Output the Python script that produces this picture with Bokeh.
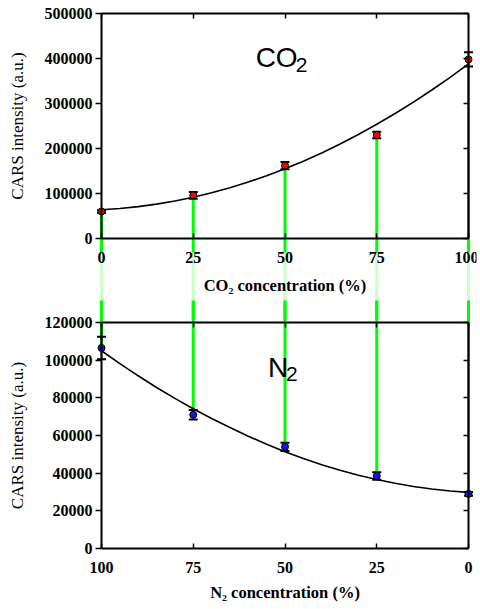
import math
from bokeh.plotting import figure
from bokeh.models import (Range1d, LinearAxis, SingleIntervalTicker, Label,
                          BoxAnnotation, CustomJSTickFormatter,
                          BasicTickFormatter)
from bokeh.embed import file_html
from bokeh.resources import INLINE

# ---------------- data ----------------
co2_conc = [0, 25, 50, 75, 100]
co2_int = [60000, 96000, 162000, 230000, 398000]
co2_err = [3000, 7500, 8000, 7000, 16000]
co2_fit_x = [0, 5, 10, 15, 20, 25, 30, 35, 40, 45, 50, 55, 60, 65, 70, 75,
             80, 85, 90, 95, 100]
co2_fit_y = [64000, 66700, 70800, 76400, 83400, 91800, 101600, 112800,
             125400, 139400, 155000, 171800, 190200, 210000, 231200, 253800,
             277800, 303200, 330000, 358200, 388000]

n2_conc = [100, 75, 50, 25, 0]
n2_int = [106500, 71000, 54000, 38500, 29000]
n2_err = [6000, 2500, 2200, 2000, 1000]
n2_fit_x = [100, 95, 90, 85, 80, 75, 70, 65, 60, 55, 50, 45, 40, 35, 30, 25,
            20, 15, 10, 5, 0]
n2_fit_y = [105000, 98200, 91700, 85500, 79700, 74200, 69000, 64200, 59600,
            55400, 51400, 47800, 44500, 41500, 38900, 36600, 34600, 32900,
            31600, 30500, 29800]

x_ticks_step = 25
co2_tick_step = 100000
n2_tick_step = 20000

# ---------------- geometry (one frame holding both panels) ----------------
LEFT = 2            # canvas x of frame left
TOP = 2             # canvas y of frame top
BOTTOM = 606        # canvas y of frame bottom
FRAME_W = 474
X0 = 101            # canvas x of 0 %
PX_X = 3.67         # px per % unit
Y_CO2_ZERO = 238    # canvas y of CO2 intensity 0
Y_N2_ZERO = 548     # canvas y of N2 intensity 0
CO2_PX = 225 / 500000
N2_PX = 226 / 120000
FRAME_H = BOTTOM - TOP

x_start = (LEFT - X0) / PX_X
x_end = x_start + FRAME_W / PX_X
co2_end = (Y_CO2_ZERO - TOP) / CO2_PX
co2_start = -(BOTTOM - Y_CO2_ZERO) / CO2_PX
n2_end = (Y_N2_ZERO - TOP) / N2_PX
n2_start = -(BOTTOM - Y_N2_ZERO) / N2_PX

p = figure(frame_width=FRAME_W, frame_height=FRAME_H,
           min_border_left=LEFT, min_border_right=2, min_border_top=TOP,
           min_border_bottom=2,
           x_range=Range1d(x_start, x_end),
           y_range=Range1d(co2_start, co2_end),
           x_axis_type=None, y_axis_type=None,
           toolbar_location=None, output_backend="svg")
p.extra_x_ranges = {"n2x": Range1d(100 - x_start, 100 - x_end)}
p.extra_y_ranges = {"n2": Range1d(n2_start, n2_end)}
p.outline_line_color = None
p.background_fill_color = "white"
p.border_fill_color = "white"

FONT = "Liberation Serif"
TICK_FS = "16px"
TITLE_FS = "16.5px"
blank = CustomJSTickFormatter(code="return ''")


def add_axis(side, ticker, tick_in, tick_out, show_labels=True, **kw):
    ax = LinearAxis(ticker=ticker, axis_line_width=2, axis_line_color="black",
                    major_tick_line_width=1.5, major_tick_line_color="black",
                    major_tick_in=tick_in, major_tick_out=tick_out,
                    minor_tick_line_color=None,
                    major_label_text_font=FONT,
                    major_label_text_font_style="bold",
                    major_label_text_font_size=TICK_FS,
                    major_label_text_color="black", **kw)
    ax.formatter = (BasicTickFormatter(use_scientific=False)
                    if show_labels else blank)
    p.add_layout(ax, side)
    return ax


xt = SingleIntervalTicker(interval=x_ticks_step, num_minor_ticks=0)
ct = SingleIntervalTicker(interval=co2_tick_step, num_minor_ticks=0)
nt = SingleIntervalTicker(interval=n2_tick_step, num_minor_ticks=0)

# CO2 panel frame
add_axis("left", ct, 0, 6, fixed_location=0, bounds=(0, 500000),
         major_label_standoff=3)
add_axis("right", ct, 5, 0, show_labels=False, fixed_location=100,
         bounds=(0, 500000))
add_axis("above", xt, 5, 0, show_labels=False, fixed_location=500000,
         bounds=(0, 100))
add_axis("below", xt, 5, 0, fixed_location=0, bounds=(0, 100),
         major_label_standoff=13)

# N2 panel frame
add_axis("left", nt, 0, 6, y_range_name="n2", fixed_location=0,
         bounds=(0, 120000), major_label_standoff=3)
add_axis("right", nt, 5, 0, show_labels=False, y_range_name="n2",
         fixed_location=100, bounds=(0, 120000))
add_axis("above", xt, 5, 0, show_labels=False, y_range_name="n2",
         fixed_location=120000, bounds=(0, 100))
add_axis("below", xt, 5, 0, x_range_name="n2x", y_range_name="n2",
         fixed_location=0, bounds=(0, 100), major_label_standoff=13)

# ---------------- green connector lines ----------------
GREEN = "#00ff00"
p.segment(x0=co2_conc, y0=co2_int, x1=co2_conc, y1=[-180000] * len(co2_conc),
          line_color=GREEN, line_width=3)
p.segment(x0=n2_conc, y0=n2_int, x1=n2_conc, y1=[140000] * len(n2_conc),
          line_color=GREEN, line_width=3, x_range_name="n2x", y_range_name="n2")

# ---------------- fits ----------------
p.line(co2_fit_x, co2_fit_y, line_color="black", line_width=1.6)
p.line(n2_fit_x, n2_fit_y, line_color="black", line_width=1.6,
       x_range_name="n2x", y_range_name="n2")

# ---------------- error bars ----------------
co2_lo = [v - e for v, e in zip(co2_int, co2_err)]
co2_hi = [v + e for v, e in zip(co2_int, co2_err)]
n2_lo = [v - e for v, e in zip(n2_int, n2_err)]
n2_hi = [v + e for v, e in zip(n2_int, n2_err)]

p.segment(x0=co2_conc, y0=co2_lo, x1=co2_conc, y1=co2_hi,
          line_color="black", line_width=1.5)
p.scatter(co2_conc + co2_conc, co2_lo + co2_hi, marker="dash", size=9,
          line_color="black", line_width=2)
p.segment(x0=n2_conc, y0=n2_lo, x1=n2_conc, y1=n2_hi, line_color="black",
          line_width=1.5, x_range_name="n2x", y_range_name="n2")
p.scatter(n2_conc + n2_conc, n2_lo + n2_hi, marker="dash", size=9,
          line_color="black", line_width=2, x_range_name="n2x",
          y_range_name="n2")

# ---------------- points ----------------
p.scatter(co2_conc, co2_int, size=7, fill_color="red", line_color="black",
          line_width=1)
p.scatter(n2_conc, n2_int, size=7, fill_color="#1515e8", line_color="black",
          line_width=1, x_range_name="n2x", y_range_name="n2")

# faded part of the connectors in the gap between the panels
p.add_layout(BoxAnnotation(bottom=-138000, top=-31000, fill_color="white",
                           fill_alpha=0.8, line_color=None, level="glyph"))

# ---------------- texts ----------------
p.add_layout(Label(x=42.0, y=402000, text="CO", text_font="Liberation Sans",
                   text_font_size="28px", text_color="black",
                   text_align="left", text_baseline="alphabetic"))
p.add_layout(Label(x=52.9, y=386000, text="2", text_font="Liberation Sans",
                   text_font_size="21px", text_color="black",
                   text_align="left", text_baseline="alphabetic"))
p.add_layout(Label(x=45.4, y=96300, y_range_name="n2", text="N",
                   text_font="Liberation Sans", text_font_size="28px",
                   text_color="black", text_align="left",
                   text_baseline="alphabetic"))
p.add_layout(Label(x=50.3, y=92900, y_range_name="n2", text="2",
                   text_font="Liberation Sans", text_font_size="21px",
                   text_color="black", text_align="left",
                   text_baseline="alphabetic"))

p.add_layout(Label(x=-22.9, y=250000, text="CARS intensity (a.u.)",
                   angle=math.pi / 2, text_font=FONT, text_font_size="17px",
                   text_color="black", text_align="center",
                   text_baseline="middle"))
p.add_layout(Label(x=-22.9, y=60000, y_range_name="n2",
                   text="CARS intensity (a.u.)", angle=math.pi / 2,
                   text_font=FONT, text_font_size="17px", text_color="black",
                   text_align="center", text_baseline="middle"))
p.add_layout(Label(x=50, y=-104000, text="CO\u2082 concentration (%)",
                   text_font=FONT, text_font_style="bold",
                   text_font_size=TITLE_FS, text_color="black",
                   text_align="center", text_baseline="middle"))
p.add_layout(Label(x=50, y=-23400, x_range_name="n2x", y_range_name="n2",
                   text="N\u2082 concentration (%)",
                   text_font=FONT, text_font_style="bold",
                   text_font_size=TITLE_FS, text_color="black",
                   text_align="center", text_baseline="middle"))

open("out.html", "w").write(file_html(p, INLINE))
